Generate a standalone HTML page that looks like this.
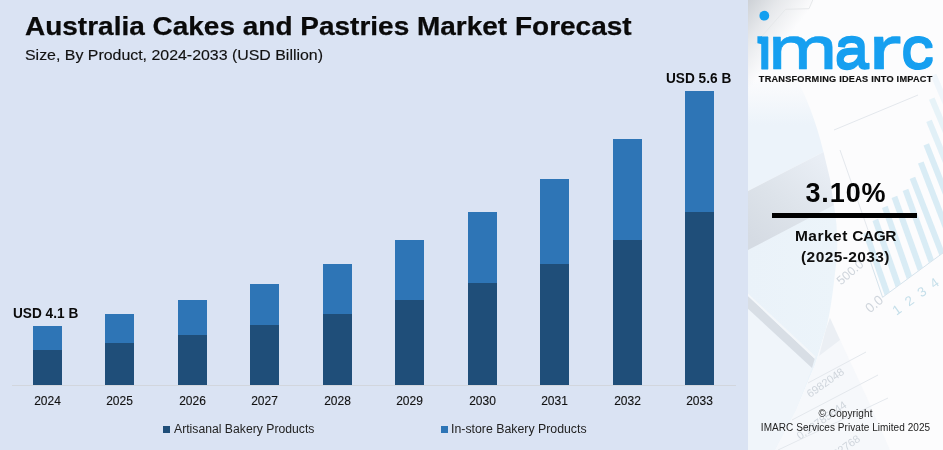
<!DOCTYPE html>
<html lang="en">
<head>
<meta charset="utf-8">
<title>Australia Cakes and Pastries Market Forecast</title>
<style>
html,body{margin:0;padding:0;}
body{width:943px;height:450px;overflow:hidden;background:#dae3f3;position:relative;font-family:"Liberation Sans",Arial,sans-serif;color:#111;}
.abs{position:absolute;white-space:nowrap;line-height:1;}
#title{left:24.8px;top:12.9px;font-size:26.5px;font-weight:bold;color:#0a0a0a;-webkit-text-stroke:0.25px #0a0a0a;transform:scaleX(1.056);transform-origin:0 50%;}
#sub{left:24.5px;top:46.9px;font-size:15.3px;color:#111;-webkit-text-stroke:0.15px #111;transform:scaleX(1.04);transform-origin:0 50%;}
.bar{position:absolute;width:29px;}
.d{background:#1f4e79;}
.l{background:#2e75b6;}
.yr{position:absolute;top:395px;width:60px;text-align:center;font-size:12px;line-height:12px;color:#111;-webkit-text-stroke:0.12px #111;}
.val{font-size:14px;font-weight:bold;color:#0a0a0a;transform:scaleX(0.975);transform-origin:0 50%;}
#axis{position:absolute;left:12px;top:385px;width:724px;height:1px;background:#d2d6dd;}
.leg{font-size:12px;color:#222;}
.sq{position:absolute;width:7px;height:7px;}
#panel{position:absolute;left:748px;top:0;width:195px;height:450px;background:#fbfcfd;overflow:hidden;}
</style>
</head>
<body>
<div id="title" class="abs">Australia Cakes and Pastries Market Forecast</div>
<div id="sub" class="abs">Size, By Product, 2024-2033 (USD Billion)</div>

<div id="chart">
<div id="axis"></div>
<!-- bars inserted -->
<div class="bar l" style="left:33px;top:326px;height:24px;"></div><div class="bar d" style="left:33px;top:350px;height:35px;"></div><div class="yr" style="left:17.5px;">2024</div>
<div class="bar l" style="left:105px;top:314px;height:29px;"></div><div class="bar d" style="left:105px;top:343px;height:42px;"></div><div class="yr" style="left:89.5px;">2025</div>
<div class="bar l" style="left:178px;top:300px;height:35px;"></div><div class="bar d" style="left:178px;top:335px;height:50px;"></div><div class="yr" style="left:162.5px;">2026</div>
<div class="bar l" style="left:250px;top:284px;height:41px;"></div><div class="bar d" style="left:250px;top:325px;height:60px;"></div><div class="yr" style="left:234.5px;">2027</div>
<div class="bar l" style="left:323px;top:264px;height:50px;"></div><div class="bar d" style="left:323px;top:314px;height:71px;"></div><div class="yr" style="left:307.5px;">2028</div>
<div class="bar l" style="left:395px;top:240px;height:60px;"></div><div class="bar d" style="left:395px;top:300px;height:85px;"></div><div class="yr" style="left:379.5px;">2029</div>
<div class="bar l" style="left:468px;top:212px;height:71px;"></div><div class="bar d" style="left:468px;top:283px;height:102px;"></div><div class="yr" style="left:452.5px;">2030</div>
<div class="bar l" style="left:540px;top:179px;height:85px;"></div><div class="bar d" style="left:540px;top:264px;height:121px;"></div><div class="yr" style="left:524.5px;">2031</div>
<div class="bar l" style="left:613px;top:139px;height:101px;"></div><div class="bar d" style="left:613px;top:240px;height:145px;"></div><div class="yr" style="left:597.5px;">2032</div>
<div class="bar l" style="left:685px;top:91px;height:121px;"></div><div class="bar d" style="left:685px;top:212px;height:173px;"></div><div class="yr" style="left:669.5px;">2033</div>
</div>

<div class="abs val" id="v1" style="left:12.8px;top:305.8px;">USD 4.1 B</div>
<div class="abs val" id="v2" style="left:665.8px;top:70.7px;">USD 5.6 B</div>

<div class="sq d" style="left:163px;top:426px;"></div>
<div class="abs leg" id="lg1" style="left:173.6px;top:423px;transform:scaleX(1.017);transform-origin:0 50%;">Artisanal Bakery Products</div>
<div class="sq l" style="left:441px;top:426px;"></div>
<div class="abs leg" id="lg2" style="left:451.2px;top:423px;transform:scaleX(1.027);transform-origin:0 50%;">In-store Bakery Products</div>

<div id="panel">

<svg class="bg" width="195" height="450" viewBox="0 0 195 450" style="position:absolute;left:0;top:0;">
<defs>
<linearGradient id="g1" x1="0" y1="0" x2="44" y2="33" gradientUnits="userSpaceOnUse"><stop offset="0" stop-color="#cdd1d6"/><stop offset="0.45" stop-color="#e6e8eb"/><stop offset="1" stop-color="#fcfcfd"/></linearGradient>
<linearGradient id="g2" x1="0" y1="78" x2="0" y2="125" gradientUnits="userSpaceOnUse"><stop offset="0" stop-color="#ecf3fa" stop-opacity="0"/><stop offset="1" stop-color="#ecf3fa" stop-opacity="1"/></linearGradient>
<linearGradient id="g3" x1="80" y1="165" x2="10" y2="245" gradientUnits="userSpaceOnUse"><stop offset="0" stop-color="#e9eef5"/><stop offset="0.55" stop-color="#dde3ea"/><stop offset="1" stop-color="#d5dbe3"/></linearGradient>
<linearGradient id="g4" x1="0" y1="0" x2="195" y2="0" gradientUnits="userSpaceOnUse"><stop offset="0" stop-color="#eaf2f9"/><stop offset="0.45" stop-color="#ecf4fa"/></linearGradient>
</defs>
<rect width="195" height="450" fill="#fcfcfd"/>
<rect width="195" height="90" fill="url(#g1)"/>
<path d="M7,44 L37.5,9.3 L61,8.7 L64.7,0" stroke="#e6e8ea" stroke-width="1" fill="none"/>
<path d="M0,70 L44,70 Q64,105 75.5,152 L0,191 Z" fill="url(#g2)"/>
<path d="M0,191 L75.5,152 L82,179 L86,206 L0,252 Z" fill="url(#g3)"/>
<path d="M0,250 L86,205 Q92,240 87,273 Q83,310 78,329 L67,365 L48,410 L27,450 L0,450 Z" fill="url(#g4)"/>
<path d="M78,329 L82,318 L120,400 L142,450 L27,450 L48,410 L67,365 Z" fill="#f6f8fb"/>
<path d="M78,329 L82,318 L92,340 L71,356 Z" fill="#ebeff4"/>
<path d="M0,309 L64,368 L48,410 L27,450 L0,450 Z" fill="#f0f5fa"/>
<path d="M0,296 L66.7,358.7 L64,368 L0,308.8 Z" fill="#d8dee5"/>
<path d="M0,293.5 L67.5,356.5 L66.7,358.7 L0,296 Z" fill="#f4f7fa"/>
<g stroke="#e4e8ed" stroke-width="1" fill="none"><path d="M60,383 L118,352"/><path d="M44,420 L130,375"/><path d="M30,450 L140,398"/><path d="M86,130 L170,95"/><path d="M92,150 L120,230"/></g>
<g fill="#d9ecf5">
<polygon points="115.2,234.0 120.8,231.8 141.8,291.7 136.7,295.5"/>
<polygon points="124.5,221.0 130.1,218.8 152.8,283.6 147.7,287.4"/>
<polygon points="134.0,208.0 139.6,205.8 163.9,275.5 158.8,279.2"/>
<polygon points="143.6,198.0 149.2,195.8 174.9,267.4 169.8,271.1"/>
<polygon points="154.7,191.0 160.3,188.8 185.8,259.4 180.8,263.1"/>
<polygon points="161.7,179.0 167.2,176.8 196.3,251.7 191.3,255.3"/>
<polygon points="170.0,163.6 175.6,161.4 207.2,243.6 202.2,247.3"/>
<polygon points="175.5,145.5 181.0,143.3 217.7,235.9 212.7,239.6"/>
<polygon opacity="0.8" points="178.3,122.0 183.8,119.8 228.0,228.3 223.1,232.0"/>
<polygon opacity="0.6" points="181.0,99.7 186.5,97.5 238.2,220.9 233.3,224.5"/>
<polygon opacity="0.35" points="182.8,76.0 188.3,73.8 248.3,213.4 243.4,217.0"/>
</g>
<path d="M122,260.5 L134.6,297.3 L195,252.9" stroke="#d5e3ec" stroke-width="1" fill="none"/>
<g font-family="Liberation Sans, sans-serif" fill="#cfd5dc" font-size="11">
<text transform="translate(93,285.5) rotate(-40.5)" font-size="12.3">500.0</text>
<text transform="translate(122,313.5) rotate(-40)" font-size="13.5">0.0</text>
<text transform="translate(148.6,315.7) rotate(-35.7)" fill="#c5dfea" font-size="13.5" letter-spacing="7.8">1234</text>
<text transform="translate(62,398) rotate(-35)">6982048</text>
<text transform="translate(52,440) rotate(-35)">0.13785644</text>
<text transform="translate(88,458) rotate(-35)">32768</text>
</g>
</svg>
<svg width="195" height="100" viewBox="0 0 195 100" style="position:absolute;left:0;top:0;">
<circle cx="16.3" cy="15.7" r="4.9" fill="#139ff0"/>
<clipPath id="lc"><rect x="0" y="33.5" width="195" height="40"/></clipPath><filter id="fat" x="-5%" y="-20%" width="110%" height="140%"><feMorphology operator="dilate" radius="0 1"/></filter>
<g filter="url(#fat)"><text id="logo" y="67.60" font-family="Liberation Sans, sans-serif" font-weight="normal" font-size="57.4" fill="#139ff0" stroke="#139ff0" stroke-linejoin="round" clip-path="url(#lc)"><tspan x="9.37" textLength="15.15" lengthAdjust="spacingAndGlyphs" stroke-width="0.8">i</tspan><tspan x="19.87" textLength="69.89" lengthAdjust="spacingAndGlyphs" stroke-width="0.4">m</tspan><tspan x="86.78" textLength="34.04" lengthAdjust="spacingAndGlyphs" stroke-width="1.4">a</tspan><tspan x="119.60" textLength="34.35" lengthAdjust="spacingAndGlyphs" stroke-width="0.3">r</tspan><tspan x="153.12" textLength="32.90" lengthAdjust="spacingAndGlyphs" stroke-width="1.1">c</tspan></text></g>
<polygon points="9.4,36.2 14,36.2 14,44.2 9.4,43.2" fill="#139ff0"/>
</svg>
<div class="abs" id="tag" style="left:10.8px;top:74.6px;font-size:9.2px;font-weight:bold;letter-spacing:0.22px;color:#111;-webkit-text-stroke:0.15px #111;">TRANSFORMING IDEAS INTO IMPACT</div>
<div class="abs" id="pct" style="left:0;width:195px;text-align:center;top:179.7px;font-size:27px;font-weight:bold;letter-spacing:0.9px;text-indent:0.9px;color:#050505;">3.10%</div>
<div style="position:absolute;left:24px;top:213px;width:145px;height:5px;background:#000;"></div>
<div class="abs" id="mc" style="left:0;width:195px;text-align:center;top:228px;font-size:15.5px;font-weight:bold;color:#0c0c0c;"><span style="letter-spacing:0.5px;">Market</span> <span style="letter-spacing:-0.45px;">CAGR</span></div>
<div class="abs" id="yrs" style="left:0;width:195px;text-align:center;top:249.3px;font-size:15.5px;font-weight:bold;letter-spacing:0.4px;color:#111;">(2025-2033)</div>
<div class="abs" id="c1" style="left:0;width:195px;text-align:center;top:408.5px;font-size:10px;letter-spacing:0.1px;color:#222;">© Copyright</div>
<div class="abs" id="c2" style="left:0;width:195px;text-align:center;top:423.4px;font-size:10px;letter-spacing:0.06px;color:#222;">IMARC Services Private Limited 2025</div>

</div>
</body>
</html>
